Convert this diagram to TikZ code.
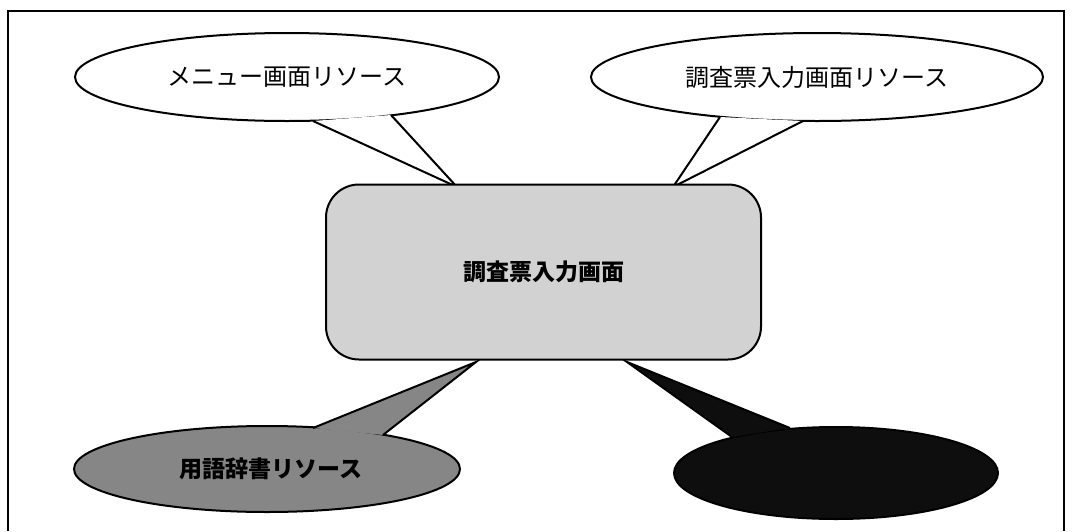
\documentclass[tikz,border=0pt]{standalone}
\usepackage{fontspec}
\usetikzlibrary{shapes.geometric}
\newfontfamily\jp{Noto Sans CJK JP}
\definecolor{boxgray}{HTML}{D2D2D2}
\definecolor{midgray}{HTML}{868686}
\definecolor{nearblack}{HTML}{0E0E0E}
\tikzset{
  every node/.style={inner sep=0pt, outer sep=0pt},
  bubble/.style={ellipse, draw=black, line width=2pt, font=\jp\fontsize{24}{28}\selectfont},
  mainbox/.style={rectangle, draw=black, line width=2pt, fill=boxgray, rounded corners=33pt,
    minimum width=435pt, minimum height=175pt, font=\jp\bfseries\fontsize{23}{27}\selectfont},
  tailedge/.style={draw=black, line width=2pt, line join=miter},
  framestyle/.style={draw=black, line width=1.5pt}
}
\begin{document}
\begin{tikzpicture}[x=1pt, y=-1pt]
\useasboundingbox (0,0) rectangle (1072,531);
% frame
\coordinate (f1) at (8,531);
\coordinate (f2) at (8,11);
\coordinate (f3) at (1064,11);
\coordinate (f4) at (1064,531);
\draw[framestyle] (f1) -- (f2) -- (f3) -- (f4);

% top-left bubble
\node[bubble, fill=white, minimum width=424pt, minimum height=88pt] (menu) at (287,77) {メニュー画面リソース};
% top-right bubble
\node[bubble, fill=white, minimum width=452pt, minimum height=88pt] (chosa) at (817,77) {調査票入力画面リソース};
% bottom-left bubble
\node[bubble, fill=midgray, minimum width=386pt, minimum height=86pt,
  font=\jp\bfseries\fontsize{23}{27}\selectfont] (yogo) at (267,469) {\hspace*{8pt}用語辞書リソース};
% bottom-right bubble
\node[bubble, fill=nearblack, minimum width=324pt, minimum height=92pt] (dark) at (836,473) {};

% tail coordinates
\coordinate (tlA) at (313,121);
\coordinate (tlB) at (391,115);
\coordinate (tlT) at (457,187);
\coordinate (trA) at (720,117);
\coordinate (trB) at (803,121);
\coordinate (trT) at (673,187);
\coordinate (blA) at (313,428);
\coordinate (blB) at (383,435);
\coordinate (blT) at (476,362);
\coordinate (brA) at (732,437);
\coordinate (brB) at (790,428);
\coordinate (brT) at (627,362);

% tails
\fill[white] (tlA) -- (tlT) -- (tlB) -- cycle;
\draw[tailedge] (tlA) -- (tlT) -- (tlB);
\fill[white] (trA) -- (trT) -- (trB) -- cycle;
\draw[tailedge] (trA) -- (trT) -- (trB);
\fill[midgray] (blA) -- (blT) -- (blB) -- cycle;
\draw[tailedge] (blA) -- (blT) -- (blB);
\fill[nearblack] (brA) -- (brT) -- (brB) -- cycle;
\draw[tailedge] (brA) -- (brT) -- (brB);

% main box
\node[mainbox] (main) at (543.5,272) {調査票入力画面};
\end{tikzpicture}
\end{document}
